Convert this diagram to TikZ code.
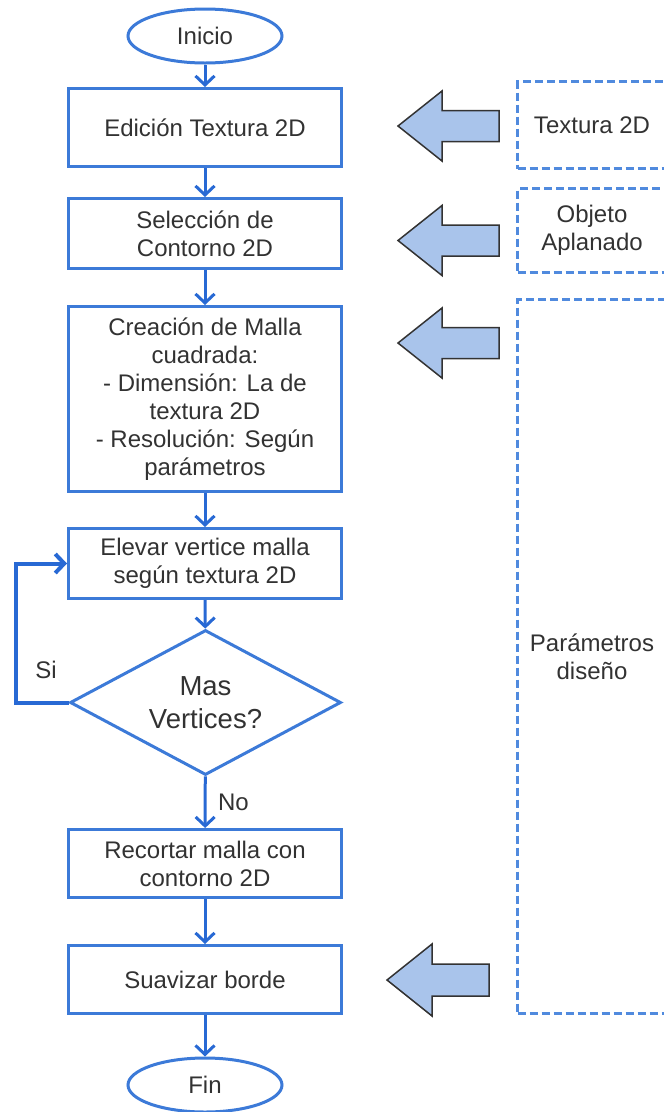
\documentclass[tikz,border=0pt]{standalone}
\usepackage{fontspec}
\setmainfont{Liberation Sans}
\usepackage{tikz}
\usetikzlibrary{arrows.meta}
\usetikzlibrary{shapes,positioning}
\definecolor{flowblue}{RGB}{60,122,216}
\definecolor{linkblue}{RGB}{40,105,212}
\definecolor{dashblue}{RGB}{80,138,222}
\definecolor{padblue}{RGB}{169,196,235}
\definecolor{inkgray}{RGB}{50,50,50}
\tikzset{>={Straight Barb[length=9pt,width=19pt]},
  txt/.style={font=\fontsize{24}{28}\selectfont,text=inkgray,align=center},
  process/.style={txt,draw=flowblue,line width=3pt,minimum width=273pt,inner sep=0pt},
  terminal/.style={txt,ellipse,draw=flowblue,line width=3pt,minimum width=154pt,minimum height=54pt},
  decision/.style={txt,diamond,draw=flowblue,line width=3pt,aspect=1.83,minimum width=271pt,
    minimum height=145pt,inner sep=0pt,font=\fontsize{27.5}{33}\selectfont},
  inputbox/.style={txt,draw=dashblue,line width=3pt,dash pattern=on 8pt off 4pt,minimum width=149pt},
  link/.style={->,draw=linkblue,line width=3pt},
  bigarrow/.style={draw=black!80,fill=padblue,line width=1.5pt,line join=miter}}

\begin{document}
\begin{tikzpicture}[x=1pt,y=-1pt]
  \useasboundingbox (0,0) rectangle (664,1112);

  % main flow
  \node [terminal] (start) at (205,36) {Inicio};
  \node [process,minimum height=78pt] (b1) at (205,127.5) {Edición Textura 2D};
  \node [process,minimum height=70pt] (b2) at (205,233.5) {Selección de\\Contorno 2D};
  \node [process,minimum height=185pt] (b3) at (205,399) {Creación de Malla\\cuadrada:\\- Dimensión: La de\\textura 2D\\- Resolución: Según\\parámetros};
  \node [process,minimum height=70pt] (b4) at (205,563.5) {Elevar vertice malla\\según textura 2D};
  \node [decision] (dec) at (205.5,702.5) {Mas\\Vertices?};
  \node [process,minimum height=68pt] (b5) at (205,863.5) {Recortar malla con\\contorno 2D};
  \node [process,minimum height=68pt] (b6) at (205,979.5) {Suavizar borde};
  \node [terminal] (stop) at (205,1085) {Fin};

  \draw [link] (start) -- (b1);
  \draw [link] (b1) -- (b2);
  \draw [link] (b2) -- (b3);
  \draw [link] (b3) -- (b4);
  \draw [link] (b4) -- (dec);
  \draw [link] (dec) -- node [txt,right=8pt] (nolab) {No} (b5);
  \draw [link] (b5) -- (b6);
  \draw [link] (b6) -- (stop);

  % loop back
  \draw [link,line width=4pt] (dec.west) -- ++(-53,0) |- (b4.west);
  \node [txt] (silab) at (46,670) {Si};

  % inputs on the right
  \node [inputbox,minimum height=87pt] (tex) at (592,125) {Textura 2D};
  \node [inputbox,minimum height=84pt] (obj) at (592,230.5) {Objeto\\Aplanado};
  \node [inputbox,minimum height=714pt] (par) at (592,656.5) {Parámetros\\diseño};

  \draw [bigarrow,shift={(398,126)}] (0,0) -- (44,-35) -- (44,-15.5) -- (101,-15.5) -- (101,15.5) -- (44,15.5) -- (44,35) -- cycle;
  \draw [bigarrow,shift={(398,240.5)}] (0,0) -- (44,-35) -- (44,-15.5) -- (101,-15.5) -- (101,15.5) -- (44,15.5) -- (44,35) -- cycle;
  \draw [bigarrow,shift={(398,343)}] (0,0) -- (44,-35) -- (44,-15.5) -- (101,-15.5) -- (101,15.5) -- (44,15.5) -- (44,35) -- cycle;
  \draw [bigarrow,shift={(387,980)}] (0,0) -- (45,-36) -- (45,-16) -- (102,-16) -- (102,16) -- (45,16) -- (45,36) -- cycle;

\end{tikzpicture}
\end{document}
